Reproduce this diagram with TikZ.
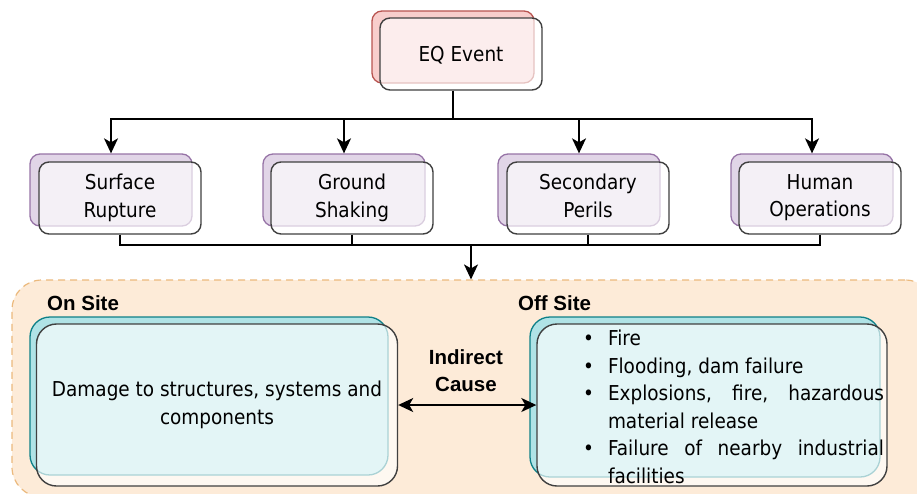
\documentclass[tikz,border=0pt]{standalone}
\usepackage{fontspec}
\setmainfont{DejaVu Sans}[FakeStretch=0.9]
\newfontfamily\headfont{Liberation Sans}
\usetikzlibrary{arrows.meta}
\definecolor{eqfill}{HTML}{F8CECC}
\definecolor{eqline}{HTML}{B85450}
\definecolor{hzfill}{HTML}{E1D5E7}
\definecolor{hzline}{HTML}{9673A6}
\definecolor{sitefill}{HTML}{B0E3E6}
\definecolor{siteline}{HTML}{0E8088}
\definecolor{zonefill}{HTML}{FDEBD8}
\definecolor{zoneline}{HTML}{EBB97D}
\definecolor{edgegray}{HTML}{404040}
\newcommand\boxstrut{\rule[-5pt]{0pt}{25.5pt}}
\newenvironment{perils}{\begin{list}{\textbullet}{\setlength{\leftmargin}{43pt}\setlength{\labelsep}{14pt}\setlength{\topsep}{0pt}\setlength{\partopsep}{0pt}\setlength{\itemsep}{0pt}\setlength{\parsep}{0pt}}}{\end{list}}
\tikzset{
  backbox/.style={draw, line width=1.3pt, rounded corners=10pt, minimum width=162pt, minimum height=72pt, inner sep=0pt},
  frontbox/.style={draw=edgegray, fill=white, fill opacity=0.65, text opacity=1, line width=1.4pt, rounded corners=10pt, minimum width=162pt, minimum height=72pt, align=center, inner sep=0pt, font=\fontsize{20.5}{27.5}\selectfont, execute at begin node=\boxstrut, execute at end node=\boxstrut},
  zone/.style={draw=zoneline, fill=zonefill, line width=1.2pt, dash pattern=on 7pt off 5pt, rounded corners=30pt, inner sep=0pt},
  head/.style={font=\headfont\bfseries\fontsize{20.5}{27}\selectfont, inner sep=0pt, align=center},
  link/.style={line width=1.5pt},
  conn/.style={line width=1.5pt, ->}
}
\begin{document}
\begin{tikzpicture}[x=1pt, y=-1pt, >={Stealth[length=15pt, width=14pt, inset=4pt]}]
\useasboundingbox (0,0) rectangle (917,493);
\clip (0,0) rectangle (917,493);

\node[backbox, fill=eqfill, draw=eqline] (eqback) at (453,47) {};
\node[frontbox] (eq) at (461,54) {EQ Event};

\node[backbox, fill=hzfill, draw=hzline] (srback) at (111,190) {};
\node[frontbox] (sr) at (120,198) {Surface\\Rupture};
\node[backbox, fill=hzfill, draw=hzline] (gsback) at (344,190) {};
\node[frontbox] (gs) at (352,198) {Ground\\Shaking};
\node[backbox, fill=hzfill, draw=hzline] (spback) at (579,190) {};
\node[frontbox] (sp) at (588,198) {Secondary\\Perils};
\node[backbox, fill=hzfill, draw=hzline] (hoback) at (812,190) {};
\node[frontbox] (ho) at (820,198) {Human\\Operations};

\node[zone, minimum width=923pt, minimum height=217pt] (site) at (473.5,388.5) {};
\node[head, anchor=base west] (onsite) at (47,310) {On Site};
\node[head, anchor=base west] (offsite) at (518,310) {Off Site};

\node[backbox, fill=sitefill, draw=siteline, rounded corners=20pt, minimum width=358pt, minimum height=158pt] (onback) at (209,396) {};
\node[frontbox, rounded corners=20pt, minimum width=361pt, minimum height=162pt] (on) at (217,405) {Damage to structures, systems and\\components};
\node[backbox, fill=sitefill, draw=siteline, rounded corners=20pt, minimum width=350pt, minimum height=160pt] (offback) at (705,397) {};
\node[frontbox, rounded corners=20pt, minimum width=350pt, minimum height=162pt] (off) at (712,405) {};
\node[text width=319pt, align=justify, inner sep=0pt, font=\fontsize{20.5}{27.5}\selectfont] (offlist) at (724.5,401) {\begin{perils}
  \item Fire
  \item Flooding, dam failure
  \item Explosions, fire, hazardous\linebreak material release
  \item Failure of nearby industrial\linebreak facilities
\end{perils}};
\node[head] (cause) at (466,371) {Indirect\\Cause};

\coordinate (split) at (453,119);
\coordinate (join) at (471,245);
\draw[link] (eq.south -| eqback) -- (split);
\foreach \n in {srback,gsback,spback,hoback}
  \draw[conn] (split) -| (\n.north);
\foreach \n in {sr,gs,sp,ho}
  \draw[link] (\n.south) |- (join);
\draw[conn] (join) -- (join |- site.north);
\draw[link, <->] (on) -- (off);
\end{tikzpicture}
\end{document}
